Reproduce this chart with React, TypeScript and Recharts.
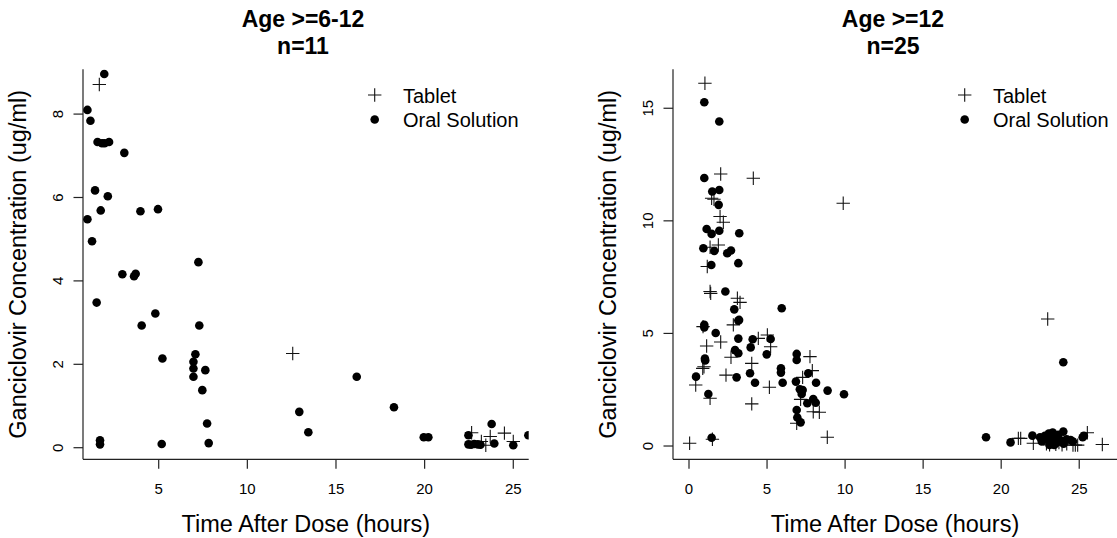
import { ScatterChart, Scatter, XAxis, YAxis, Legend } from 'recharts';

const FONT = '"Liberation Sans", Arial, Helvetica, sans-serif';

// Age >=6-12 panel: [time after dose (h), concentration (ug/ml)]
const youngTablet: [number, number][] = [
  [1.65, 8.71], [12.56, 2.26], [22.65, 0.36], [23.2, 0.15], [23.45, 0.06],
  [23.7, 0.27], [24.5, 0.35], [25.0, 0.15],
];
const youngSolution: [number, number][] = [
  [1.93, 8.96], [0.98, 8.1], [1.15, 7.84], [1.55, 7.33], [1.8, 7.3], [1.95, 7.3],
  [2.2, 7.33], [3.06, 7.07], [1.41, 6.17], [2.13, 6.03], [1.73, 5.69], [3.97, 5.67],
  [4.96, 5.72], [0.98, 5.48], [1.24, 4.95], [7.24, 4.45], [2.95, 4.16], [3.61, 4.11],
  [3.7, 4.17], [1.5, 3.48], [4.81, 3.22], [4.04, 2.93], [7.29, 2.93], [5.21, 2.14],
  [7.07, 2.24], [6.96, 2.06], [6.96, 1.9], [6.96, 1.7], [7.63, 1.86], [7.46, 1.38],
  [7.73, 0.58], [7.82, 0.11], [1.69, 0.18], [1.69, 0.08], [5.17, 0.09], [12.93, 0.86],
  [13.44, 0.37], [16.17, 1.7], [18.27, 0.97], [19.95, 0.25], [20.21, 0.25], [22.47, 0.3],
  [22.47, 0.08], [22.62, 0.07], [22.8, 0.09], [23.0, 0.08], [23.15, 0.07], [23.78, 0.57],
  [23.93, 0.1], [25.0, 0.06], [25.85, 0.3],
];
const youngTimeTicks = [5, 10, 15, 20, 25];
const youngConcTicks = [0, 2, 4, 6, 8];

// Age >=12 panel
const olderTablet: [number, number][] = [
  [1.02, 16.11], [2.03, 12.08], [4.12, 11.89], [9.88, 10.78], [1.45, 11.0], [1.6, 10.96],
  [1.99, 10.19], [2.2, 9.94], [1.35, 8.83], [1.88, 8.93], [1.17, 7.97], [1.35, 6.86],
  [1.39, 6.78], [3.1, 6.56], [3.27, 6.38], [0.9, 5.3], [2.84, 5.38], [1.13, 4.44],
  [2.03, 4.62], [5.02, 4.93], [4.44, 4.78], [5.23, 4.41], [2.69, 3.94], [4.02, 3.67],
  [0.88, 3.45], [0.96, 3.52], [0.43, 2.71], [2.37, 3.15], [1.35, 2.12], [4.02, 1.87],
  [5.15, 2.61], [1.5, 0.3], [0.04, 0.12], [7.75, 3.97], [7.9, 3.35], [7.28, 3.05],
  [7.15, 2.07], [7.96, 1.52], [8.35, 1.5], [6.9, 1.01], [8.86, 0.39], [22.98, 5.64],
  [21.1, 0.34], [21.25, 0.34], [22.06, 0.12], [25.52, 0.59], [26.48, 0.07], [22.9, 0.1],
  [23.1, 0.05], [23.3, 0.2], [23.5, 0.08], [23.7, 0.15], [23.9, 0.05], [24.2, 0.1],
  [24.6, 0.04], [24.75, 0.04], [24.9, 0.04], [23.2, 0.45], [23.6, 0.35],
];
const olderSolution: [number, number][] = [
  [0.98, 15.27], [1.94, 14.41], [0.98, 11.9], [1.49, 11.3], [1.94, 11.37], [1.9, 10.71],
  [1.13, 9.64], [1.45, 9.42], [1.94, 9.56], [3.22, 9.45], [0.92, 8.78], [1.62, 8.66],
  [2.45, 8.56], [2.69, 8.68], [1.43, 8.04], [3.16, 8.12], [2.33, 6.86], [2.9, 6.07],
  [5.94, 6.12], [3.16, 5.57], [3.21, 5.6], [0.98, 5.38], [0.98, 5.27], [1.71, 5.02],
  [3.16, 4.77], [4.08, 4.74], [5.23, 4.75], [3.95, 4.38], [2.95, 4.26], [3.16, 4.12],
  [4.98, 4.07], [1.02, 3.88], [1.04, 3.8], [0.45, 3.08], [3.05, 3.05], [3.91, 3.23],
  [4.23, 2.81], [1.24, 2.31], [1.45, 0.37], [5.89, 3.45], [5.89, 3.26], [6.0, 2.81],
  [6.9, 4.09], [6.9, 3.82], [7.64, 3.23], [6.85, 2.86], [7.1, 2.52], [7.28, 2.49],
  [7.22, 2.31], [8.14, 2.81], [7.58, 1.9], [7.96, 2.09], [8.12, 1.92], [8.88, 2.46],
  [9.93, 2.3], [6.9, 1.6], [6.94, 1.27], [7.15, 1.05], [19.03, 0.39], [20.6, 0.16],
  [22.0, 0.46], [22.49, 0.39], [23.98, 3.72], [23.98, 0.64], [22.6, 0.2], [22.8, 0.45],
  [22.95, 0.3], [23.05, 0.55], [23.15, 0.12], [23.3, 0.6], [23.4, 0.35], [23.55, 0.15],
  [23.65, 0.5], [23.8, 0.25], [24.0, 0.1], [24.2, 0.3], [24.45, 0.27], [24.6, 0.2],
  [25.22, 0.39], [25.3, 0.45], [23.1, 0.05], [23.4, 0.05],
];
const olderTimeTicks = [0, 5, 10, 15, 20, 25];
const olderConcTicks = [0, 5, 10, 15];

const legendLabels = ['Tablet', 'Oral Solution'];
const xTitle = 'Time After Dose (hours)';
const yTitle = 'Ganciclovir Concentration (ug/ml)';

const toPoints = (rows: [number, number][]) => rows.map(([time, conc]) => ({ time, conc }));

const PlusShape = (p: any) => (
  <path
    d={`M${p.cx - 6.7},${p.cy}h13.4M${p.cx},${p.cy - 6.7}v13.4`}
    stroke="#111"
    strokeWidth={1.1}
    fill="none"
  />
);
const DotShape = (p: any) => <circle cx={p.cx} cy={p.cy} r={4.3} fill="#000" />;

// R puts the tick labels well below the axis line
const XTick = ({ x, y, payload }: any) => (
  <text x={x} y={y + 25} textAnchor="middle" fontSize={15} fontFamily={FONT} fill="#000">
    {payload.value}
  </text>
);
const YTick = ({ x, y, payload }: any) => (
  <text
    x={x - 10}
    y={y}
    transform={`rotate(-90, ${x - 10}, ${y})`}
    textAnchor="middle"
    fontSize={15}
    fontFamily={FONT}
    fill="#000"
  >
    {payload.value}
  </text>
);

function Key() {
  return (
    <svg width={190} height={50} style={{ display: 'block', overflow: 'visible' }}>
      <path d="M8,12h13.4M14.7,5.3v13.4" stroke="#111" strokeWidth={1.1} />
      <text x={43} y={19.5} fontSize={20} fontFamily={FONT} fill="#000">{legendLabels[0]}</text>
      <circle cx={14.7} cy={36.5} r={4.3} fill="#000" />
      <text x={43} y={44} fontSize={20} fontFamily={FONT} fill="#000">{legendLabels[1]}</text>
    </svg>
  );
}

interface PanelProps {
  left: number;
  width: number;
  axisWidth: number;
  marginRight: number;
  xDomain: [number, number];
  yDomain: [number, number];
  xTicks: number[];
  yTicks: number[];
  tablet: [number, number][];
  solution: [number, number][];
  title: string;
  sub: string;
  titleCenter: number;
  legendLeft: number;
}

function Panel(props: PanelProps) {
  const axisStyle = { stroke: '#222', strokeWidth: 1.2 };
  return (
    <div style={{ position: 'absolute', left: props.left, top: 0, width: props.width, height: 538 }}>
      <ScatterChart
        width={props.width}
        height={538}
        margin={{ top: 69.3, right: props.marginRight, bottom: 0, left: 0 }}
      >
        <XAxis
          type="number"
          dataKey="time"
          domain={props.xDomain}
          ticks={props.xTicks}
          interval={0}
          allowDataOverflow
          height={78.7}
          tickSize={9.5}
          tickMargin={0}
          tick={XTick}
          axisLine={axisStyle}
          tickLine={axisStyle}
          label={({ viewBox }: any) => (
            <text
              x={viewBox.x + viewBox.width / 2}
              y={viewBox.y + 72.5}
              textAnchor="middle"
              fontSize={23.5}
              fontFamily={FONT}
              fill="#000"
            >
              {xTitle}
            </text>
          )}
        />
        <YAxis
          type="number"
          dataKey="conc"
          domain={props.yDomain}
          ticks={props.yTicks}
          interval={0}
          allowDataOverflow
          width={props.axisWidth}
          tickSize={9.5}
          tickMargin={0}
          tick={YTick}
          axisLine={axisStyle}
          tickLine={axisStyle}
          label={({ viewBox }: any) => {
            const bx = viewBox.x + viewBox.width - 57;
            const by = viewBox.y + viewBox.height / 2;
            return (
              <text
                x={bx}
                y={by}
                transform={`rotate(-90, ${bx}, ${by})`}
                textAnchor="middle"
                fontSize={23.5}
                fontFamily={FONT}
                fill="#000"
              >
                {yTitle}
              </text>
            );
          }}
        />
        <Legend
          layout="vertical"
          align="center"
          verticalAlign="middle"
          wrapperStyle={{ left: props.legendLeft, top: 83, width: 190, height: 50 }}
          content={() => <Key />}
        />
        <Scatter name="Tablet" data={toPoints(props.tablet)} shape={PlusShape} isAnimationActive={false} />
        <Scatter name="Oral Solution" data={toPoints(props.solution)} shape={DotShape} isAnimationActive={false} />
      </ScatterChart>
      <div
        style={{
          position: 'absolute',
          left: props.titleCenter - 150,
          top: 5.8,
          width: 300,
          textAlign: 'center',
          fontFamily: FONT,
          fontWeight: 'bold',
          fontSize: 23,
          lineHeight: '27px',
          color: '#000',
        }}
      >
        <div>{props.title}</div>
        <div>{props.sub}</div>
      </div>
    </div>
  );
}

export default function App() {
  return (
    <div
      style={{
        position: 'absolute',
        left: 0,
        top: 0,
        width: 1117,
        height: 538,
        overflow: 'hidden',
        background: '#fff',
      }}
    >
      <Panel
        left={0}
        width={560}
        axisWidth={83}
        marginRight={31.3}
        xDomain={[0.73, 25.87]}
        yDomain={[-0.278, 9.074]}
        xTicks={youngTimeTicks}
        yTicks={youngConcTicks}
        tablet={youngTablet}
        solution={youngSolution}
        title="Age >=6-12"
        sub="n=11"
        titleCenter={303}
        legendLeft={360.3}
      />
      <Panel
        left={560}
        width={557}
        axisWidth={113}
        marginRight={0}
        xDomain={[-1.025, 27.42]}
        yDomain={[-0.59, 16.73]}
        xTicks={olderTimeTicks}
        yTicks={olderConcTicks}
        tablet={olderTablet}
        solution={olderSolution}
        title="Age >=12"
        sub="n=25"
        titleCenter={333}
        legendLeft={390.3}
      />
    </div>
  );
}
